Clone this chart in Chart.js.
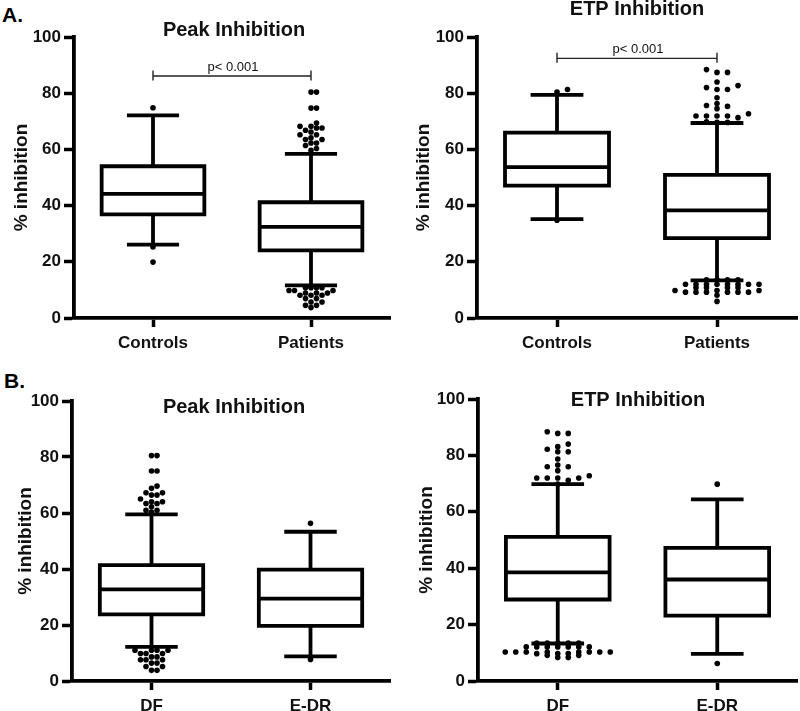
<!DOCTYPE html>
<html><head><meta charset="utf-8">
<script src="https://cdn.jsdelivr.net/npm/chart.js@4.4.1/dist/chart.umd.min.js"></script>
<style>
html,body{margin:0;padding:0;background:#fff;}
#wrap{position:relative;width:800px;height:711px;overflow:hidden;background:#fff;font-family:"Liberation Sans",Arial,Helvetica,sans-serif;}
.cv{position:absolute;}
.lbl{position:absolute;font-weight:bold;font-size:21px;line-height:1;color:#000;}
</style></head><body>
<div id="wrap">
<div class="lbl" style="left:2px;top:4px">A.</div>
<div class="lbl" style="left:4px;top:370px">B.</div>
<div class="cv" style="left:0;top:0"><canvas id="c1" width="400" height="360"></canvas></div>
<div class="cv" style="left:400px;top:0"><canvas id="c2" width="400" height="360"></canvas></div>
<div class="cv" style="left:0;top:340px"><canvas id="c3" width="400" height="371"></canvas></div>
<div class="cv" style="left:400px;top:340px"><canvas id="c4" width="400" height="371"></canvas></div>
</div>
<script>
const FONT = '"Liberation Sans", Arial, Helvetica, sans-serif';

// ---- categories ----
const groupsA = ['Controls', 'Patients'];
const groupsB = ['DF', 'E-DR'];
const yAxisTitle = '% inhibition';
const pLabel = 'p< 0.001';

// ---- box statistics: [lower whisker, Q1, median, Q3, upper whisker] ----
const peakControls = [26.1, 36.9, 44.2, 54.0, 72.1];
const peakPatients = [11.6, 24.1, 32.4, 41.2, 58.4];
const etpControls  = [35.2, 47.1, 53.7, 66.0, 79.4];
const etpPatients  = [13.4, 28.4, 38.3, 50.9, 69.4];
const peakDF  = [12.2, 23.8, 32.7, 41.4, 59.5];
const peakEDR = [8.8, 19.7, 29.4, 39.8, 53.3];
const etpDF   = [13.3, 28.9, 38.5, 51.1, 69.8];
const etpEDR  = [9.6, 23.2, 36.0, 47.2, 64.4];

// ---- outliers ----
const peakControlsOut = [74.8, 25.3, 19.9];
const peakPatientsOut = [80.4, 80.4, 74.7, 74.7, 69.4, 68.2, 68.2, 67.6, 67.6, 66.8, 66.2, 65.2, 65.2, 64.1, 63.5, 63.5, 62.3, 62.3, 61.4, 60.3, 59.7,
  10.8, 10.8, 10.8, 10.8, 9.8, 9.8, 9.8, 8.9, 8.9, 8.9, 8.1, 8.1, 8.1, 6.9, 6.9, 5.7, 5.7, 4.5, 4.5, 3.7];
const etpControlsOut = [81.3, 80.4, 34.8];
const etpPatientsOut = [88.4, 87.4, 87.4, 84.0, 82.7, 82.0, 81.3, 81.3, 78.4, 76.3, 75.6, 75.3, 74.5, 72.7, 71.9, 71.9, 71.9, 71.9, 71.3, 69.8, 69.6, 69.6,
  13.6, 13.6, 13.6, 13.6, 12.0, 12.0, 12.0, 12.0, 12.0, 12.0, 12.0, 12.0, 10.8, 10.8, 10.8, 10.8, 9.8, 9.8, 9.8, 9.2, 9.2, 9.2, 9.2, 9.2, 9.2, 8.1, 5.9];
const peakDFOut = [80.5, 80.5, 75.0, 75.0, 69.6, 68.8, 67.2, 67.2, 66.4, 66.4, 65.0, 64.0, 64.0, 63.4, 63.4, 62.2, 61.0, 61.0, 60.3,
  11.0, 11.0, 11.0, 11.0, 9.8, 9.8, 9.8, 8.6, 8.6, 7.6, 7.6, 7.6, 6.4, 6.4, 5.2, 5.2, 3.8, 3.8];
const peakEDROut = [56.3, 7.7];
const etpDFOut = [88.4, 87.8, 87.8, 84.0, 83.1, 82.2, 81.3, 81.3, 78.7, 76.6, 76.0, 76.0, 74.6, 72.8, 72.0, 72.0, 72.0, 72.0, 71.2, 69.8,
  13.5, 13.5, 13.5, 13.5, 13.5, 12.1, 12.1, 12.1, 12.1, 12.1, 12.1, 12.1, 10.3, 10.3, 10.3, 10.3, 10.3, 10.3, 10.3, 10.3, 9.7, 9.7, 9.7, 9.1, 9.1, 8.3, 8.3];
const etpEDROut = [69.8, 6.2];

// ---- significance bracket levels ----
const bracketPeakA = 86.1;
const bracketEtpA = 92.4;

// ---------------------------------------------------------------
const BOX_HW = 0.325, CAP_HW = 0.165;

function boxPoints(stats, c) {
  const [lo, q1, med, q3, hi] = stats;
  const gap = () => ({x: c, y: null});
  return [
    {x: c - BOX_HW, y: q1}, {x: c + BOX_HW, y: q1}, {x: c + BOX_HW, y: q3}, {x: c - BOX_HW, y: q3}, {x: c - BOX_HW, y: q1}, {x: c + BOX_HW, y: q1}, gap(),
    {x: c - BOX_HW, y: med}, {x: c + BOX_HW, y: med}, gap(),
    {x: c, y: q3}, {x: c, y: hi}, gap(),
    {x: c - CAP_HW, y: hi}, {x: c + CAP_HW, y: hi}, gap(),
    {x: c, y: q1}, {x: c, y: lo}, gap(),
    {x: c - CAP_HW, y: lo}, {x: c + CAP_HW, y: lo}
  ];
}
function bracketPoints(v) {
  return [
    {x: 0, y: v}, {x: 1, y: v}, {x: 0.5, y: null},
    {x: 0, y: v - 1.6}, {x: 0, y: v + 2.0}, {x: 0.5, y: null},
    {x: 1, y: v - 1.6}, {x: 1, y: v + 2.0}
  ];
}

const textPlugin = {
  id: 'texts',
  afterDraw(chart, args, opts) {
    const ctx = chart.ctx;
    ctx.save();
    ctx.fillStyle = '#111';
    ctx.textAlign = 'center';
    ctx.textBaseline = 'alphabetic';
    if (opts.title) {
      ctx.font = 'bold 20px ' + FONT;
      ctx.fillText(opts.title.text, opts.title.x, opts.title.y);
    }
    if (opts.bracket != null) {
      const xs = chart.scales.x, ys = chart.scales.y;
      ctx.font = '13px ' + FONT;
      ctx.fillText(pLabel, (xs.getPixelForValue(0) + xs.getPixelForValue(1)) / 2 + 1, ys.getPixelForValue(opts.bracket) - 5);
    }
    ctx.restore();
  }
};

// beeswarm placement of outlier dots (pixel space, via the chart's scales)
function swarm(chart, dsIndex, c, stepPx, yThrLow, yThrHigh, split) {
  const ds = chart.data.datasets[dsIndex];
  const xs = chart.scales.x, ys = chart.scales.y;
  const cx = xs.getPixelForValue(c);
  const order = ds.data.map((p, i) => i).sort((a, b) => ds.data[a].y - ds.data[b].y);
  const placed = [];
  order.forEach(i => {
    const v = ds.data[i].y;
    const yThr = v > split ? yThrHigh : yThrLow;
    const py = ys.getPixelForValue(v);
    let k = 0, off = 0;
    while (true) {
      off = (k === 0 ? 0 : (k % 2 ? 1 : -1) * Math.ceil(k / 2)) * stepPx;
      if (!placed.some(p => Math.abs(p.x - off) < stepPx * 0.99 && Math.abs(p.y - py) < yThr)) break;
      k++;
    }
    placed.push({x: off, y: py});
    ds.data[i].x = xs.getValueForPixel(cx + off);
  });
}

function makeChart(id, cfg) {
  const datasets = [];
  cfg.outliers.forEach((vals, gi) => datasets.push({
    data: vals.map(v => ({x: gi, y: v})),
    showLine: false, pointRadius: 2.8, pointHoverRadius: 2.8,
    pointBackgroundColor: '#000', pointBorderWidth: 0, pointBorderColor: '#000'
  }));
  cfg.stats.forEach((s, gi) => datasets.push({
    data: boxPoints(s, gi), showLine: true, spanGaps: false, tension: 0,
    borderColor: '#000', borderWidth: 3.8, pointRadius: 0, pointHoverRadius: 0,
    borderJoinStyle: 'miter', borderCapStyle: 'butt', fill: false
  }));
  if (cfg.bracket != null) datasets.push({
    data: bracketPoints(cfg.bracket), showLine: true, spanGaps: false, tension: 0,
    borderColor: '#222', borderWidth: 1.4, pointRadius: 0, pointHoverRadius: 0, fill: false
  });
  const chart = new Chart(document.getElementById(id), {
    type: 'scatter',
    data: {datasets},
    options: {
      responsive: false, animation: false, devicePixelRatio: 1,
      events: [],
      layout: {padding: {left: 0, right: cfg.padR, top: cfg.padT, bottom: 0}},
      plugins: {
        legend: {display: false}, tooltip: {enabled: false},
        texts: {title: cfg.title, bracket: cfg.bracket}
      },
      scales: {
        x: {
          type: 'linear', min: -0.5, max: 1.5,
          afterBuildTicks: s => { s.ticks = cfg.cats.map((_, i) => ({value: i})); },
          afterFit: s => { s.height = cfg.xH; },
          grid: {display: true, drawOnChartArea: false, drawTicks: true, tickLength: 9, tickWidth: 3.5, tickColor: '#000'},
          border: {display: true, color: '#000', width: 3.8},
          ticks: {callback: v => cfg.cats[v], font: {family: FONT, size: 17, weight: 'bold'}, color: '#111', padding: 6, maxRotation: 0, autoSkip: false}
        },
        y: {
          type: 'linear', min: 0, max: 100,
          afterFit: s => { s.width = cfg.yW; },
          grid: {display: true, drawOnChartArea: false, drawTicks: true, tickLength: 10, tickWidth: 3.5, tickColor: '#000'},
          border: {display: true, color: '#000', width: 3.8},
          ticks: {stepSize: 20, font: {family: FONT, size: 17, weight: 'bold'}, color: '#111', padding: 3},
          title: {display: true, text: yAxisTitle, font: {family: FONT, size: 19, weight: 'bold'}, color: '#111', padding: {top: cfg.titlePad, bottom: 0}}
        }
      }
    },
    plugins: [textPlugin]
  });
  cfg.outliers.forEach((_, gi) => swarm(chart, gi, gi, cfg.step, cfg.yThr[0], cfg.yThr[1], cfg.stats[gi][2]));
  chart.update('none');
  return chart;
}

makeChart('c1', {cats: groupsA, stats: [peakControls, peakPatients], outliers: [peakControlsOut, peakPatientsOut],
  bracket: bracketPeakA, title: {text: 'Peak Inhibition', x: 234, y: 36},
  yW: 74, padR: 10, padT: 37, xH: 42, titlePad: 10.6, step: 5.5, yThr: [4.8, 4.8]});
makeChart('c2', {cats: groupsA, stats: [etpControls, etpPatients], outliers: [etpControlsOut, etpPatientsOut],
  bracket: bracketEtpA, title: {text: 'ETP Inhibition', x: 237, y: 15},
  yW: 77, padR: 3, padT: 37, xH: 42, titlePad: 12.6, step: 10.5, yThr: [3.2, 5]});
makeChart('c3', {cats: groupsB, stats: [peakDF, peakEDR], outliers: [peakDFOut, peakEDROut],
  bracket: null, title: {text: 'Peak Inhibition', x: 234, y: 72.7},
  yW: 72, padR: 10, padT: 61, xH: 30, titlePad: 14.6, step: 5.5, yThr: [4.8, 4.8]});
makeChart('c4', {cats: groupsB, stats: [etpDF, etpEDR], outliers: [etpDFOut, etpEDROut],
  bracket: null, title: {text: 'ETP Inhibition', x: 238, y: 65.7},
  yW: 78, padR: 3, padT: 59, xH: 30, titlePad: 15.6, step: 10.5, yThr: [3.2, 5]});
</script>
</body></html>
